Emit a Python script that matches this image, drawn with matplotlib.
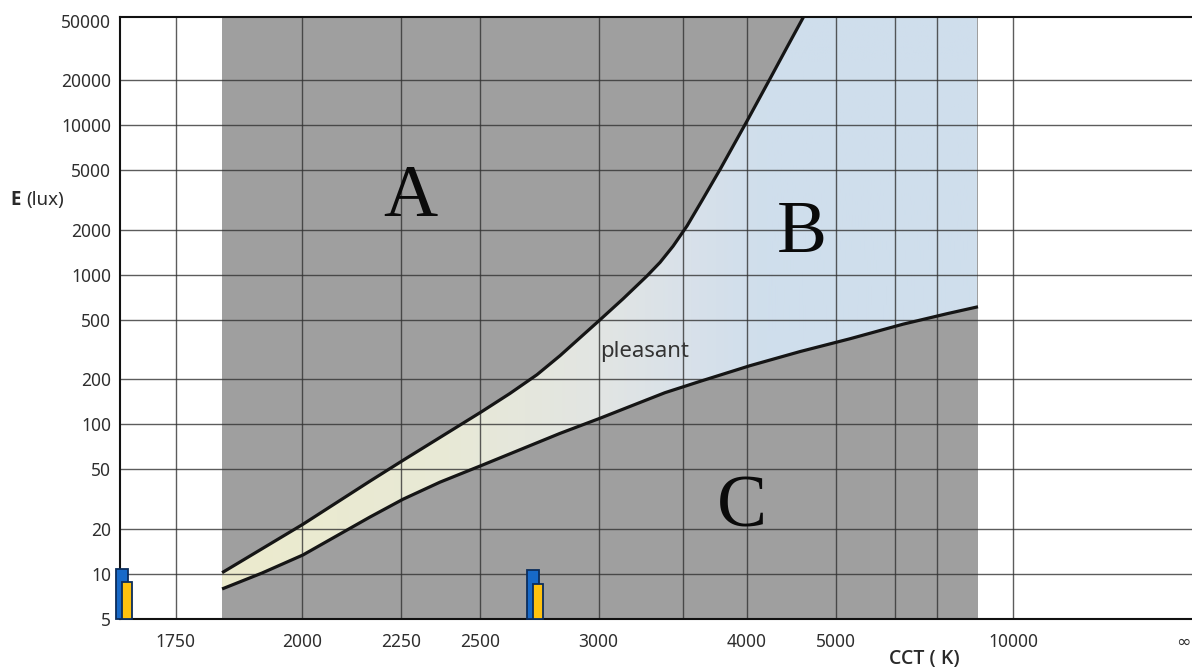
import numpy as np
import matplotlib
matplotlib.use("Agg")
import matplotlib.pyplot as plt
from matplotlib.colors import LinearSegmentedColormap
from matplotlib.patches import Polygon
from matplotlib.ticker import NullLocator

plt.rcParams['font.family'] = ['Noto Sans', 'DejaVu Sans']

# Kruithof comfort diagram: correlated colour temperature (K) vs illuminance (lux)
# Upper boundary (too bright / "A")
upper_cct = [1834, 2001, 2164, 2255, 2506, 2609, 2717, 2816, 3007, 3129,
             3267, 3347, 3431, 3526, 3634, 3779, 4002, 4221, 4398, 4604]
upper_lux = [10.2, 21.5, 41.7, 57.5, 122, 161, 215, 288, 501, 692,
             985, 1213, 1556, 2125, 3141, 5168, 10670, 20480, 33210, 55390]

# Lower boundary (too dim / "C")
lower_cct = [1834, 1913, 2001, 2088, 2164, 2255, 2366, 2506, 2816, 3007,
             3168, 3378, 3619, 4029, 4545, 5211, 6170, 7283, 8342]
lower_lux = [7.94, 10.15, 13.4, 18.5, 24.0, 31.6, 41.1, 53.3, 87.1, 110,
             132, 163, 194, 247, 307, 374, 468, 550, 612]

# Colour-temperature span of the shaded diagram
zone_cct = [1834, 8342]

# Lamp markers (blue / yellow pair) at the foot of the chart
lamp_cct = [1662, 2700]
lamp_blue_lux = [10.8, 10.6]
lamp_yellow_lux = [8.8, 8.6]

xtick_cct = [1750, 2000, 2250, 2500, 3000, 4000, 5000, 10000, np.inf]
xtick_labels = ['1750', '2000', '2250', '2500', '3000', '4000', '5000', '10000', '\u221e']
ytick_vals = [5, 10, 20, 50, 100, 200, 500, 1000, 2000, 5000, 10000, 20000, 50000]
vgrid_cct = [1750, 2000, 2250, 2500, 3000, 3500, 4000, 5000, 6000, 7000, 10000]
hgrid_lux = [10, 20, 50, 100, 200, 500, 1000, 2000, 5000, 10000, 20000]

Y_MIN, Y_MAX = 5, 53000


def mired(k):
    return 1e6 / np.asarray(k, dtype=float)


fig = plt.figure(figsize=(11.92, 6.69), dpi=100)
ax = fig.add_axes([120 / 1192, 50 / 669, 1072 / 1192, 602 / 669])
ax.set_yscale('log')

m0, m1 = mired(zone_cct)

# grey background of the diagram
ax.axvspan(m0, m1, color='#9f9f9f', lw=0, zorder=0)

# warm-to-cool gradient in the pleasant zone and region B
cmap = LinearSegmentedColormap.from_list(
    'warm_cool',
    [(0.0, '#ecebcd'), (0.30, '#e8e9d6'), (0.50, '#e2e5e3'),
     (0.62, '#d8e1ea'), (0.72, '#cfdeec'), (1.0, '#cfdeec')])
grad = np.linspace(0, 1, 512)[None, :]
img = ax.imshow(grad, cmap=cmap, extent=[m0, m1, Y_MIN, Y_MAX], aspect='auto',
                origin='lower', interpolation='bilinear', zorder=0.5)

verts = list(zip(mired(lower_cct), lower_lux))
verts += [(m1, 60000), (mired(upper_cct[-1]), 60000)]
verts += list(zip(mired(upper_cct[::-1]), upper_lux[::-1]))
clip = Polygon(verts, closed=True, transform=ax.transData,
               facecolor='none', edgecolor='none')
img.set_clip_path(clip)

# grid
for c in vgrid_cct:
    ax.axvline(mired(c), color='#333333', lw=1.0, alpha=0.8, zorder=1)
for v in hgrid_lux:
    ax.axhline(v, color='#333333', lw=1.0, alpha=0.8, zorder=1)

# boundary curves
for xs, ys in ((upper_cct, upper_lux), (lower_cct, lower_lux)):
    ax.plot(mired(xs), ys, color='#151515', lw=2.3,
            solid_capstyle='butt', solid_joinstyle='round', zorder=3)

# lamp markers
lamp_m = mired(lamp_cct)
ax.bar(lamp_m, np.array(lamp_blue_lux) - Y_MIN, bottom=Y_MIN, width=7.0,
       color='#1769c8', edgecolor='#0b2d5c', lw=1.3, zorder=6, clip_on=False)
ax.bar(lamp_m - 3.0, np.array(lamp_yellow_lux) - Y_MIN, bottom=Y_MIN, width=5.9,
       color='#ffc20e', edgecolor='#0b2d5c', lw=1.3, zorder=7, clip_on=False)

# region labels
serif = dict(family=['Liberation Serif', 'DejaVu Serif'], fontsize=54,
             ha='center', va='baseline', color='#0a0a0a', zorder=8)
ax.text(mired(2275), 2486, 'A', **serif)
ax.text(mired(4568), 1423, 'B', **serif)
ax.text(mired(3955), 20.9, 'C', **serif)
ax.text(mired(3254), 282.6, 'pleasant', fontsize=16, color='#333333',
        ha='center', va='baseline', zorder=8)

# axes, ticks
ax.set_xlim(602.7, -0.56)
ax.set_ylim(Y_MIN, Y_MAX)
ax.set_xticks(mired(xtick_cct))
ax.set_xticklabels(xtick_labels)
ax.set_yticks(ytick_vals)
ax.set_yticklabels([str(v) for v in ytick_vals])
ax.yaxis.set_minor_locator(NullLocator())
ax.xaxis.set_minor_locator(NullLocator())
ax.tick_params(axis='both', length=0, labelsize=12.5, labelcolor='#2e2e2e')
ax.tick_params(axis='x', pad=10)
ax.tick_params(axis='y', pad=6.5)
# the infinity label sits at the figure edge: keep it inside
ax.get_xticklabels()[-1].set_horizontalalignment('right')

for side in ('top', 'left', 'bottom'):
    ax.spines[side].set_color('#111111')
    ax.spines[side].set_linewidth(1.5)
    ax.spines[side].set_zorder(5)
ax.spines['right'].set_visible(False)

# axis titles
bold_family = ['Open Sans', 'Lato', 'DejaVu Sans']
fig.text(10 / 1192, (669 - 205) / 669, 'E', fontsize=13.5, fontweight='bold',
         family=bold_family, color='#2a2a2a', ha='left', va='baseline')
fig.text(26 / 1192, (669 - 205) / 669, '(lux)', fontsize=13.5,
         color='#2a2a2a', ha='left', va='baseline')
fig.text(924 / 1192, (669 - 664) / 669, 'CCT ( K)', fontsize=14,
         fontweight='semibold', family=bold_family, color='#2a2a2a',
         ha='center', va='baseline')

fig.savefig('out.png', dpi=100)
